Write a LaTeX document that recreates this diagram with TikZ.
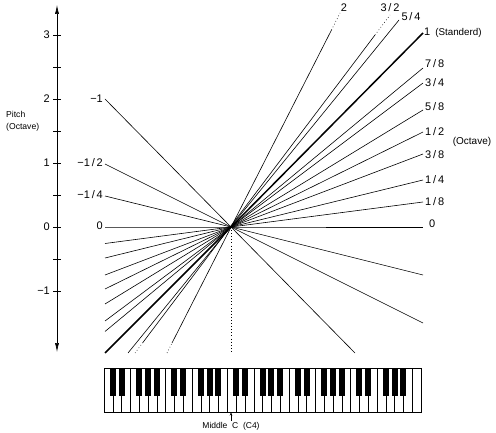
\documentclass[tikz,border=0pt]{standalone}
\usepackage{fontspec}
\setmainfont{Liberation Sans}
\usetikzlibrary{arrows.meta}
\tikzset{
  fan/.style={line width=0.6pt},
  stdline/.style={line width=1.5pt},
  dotline/.style={line width=0.6pt, dash pattern=on 0.7pt off 2.4pt},
  num/.style={font=\fontsize{11}{12}\selectfont, inner sep=1pt},
  word/.style={font=\fontsize{9.5}{12}\selectfont, inner sep=1pt},
}
\begin{document}
\begin{tikzpicture}[x=1pt,y=-1pt]
\useasboundingbox (0,0) rectangle (496,433);
% pitch axis
\coordinate (ytop) at (57,5);
\coordinate (ybot) at (57,352);
\draw[line width=0.6pt, {Latex[length=9pt,width=4pt]}-{Latex[length=9pt,width=4pt]}] (ybot) -- (ytop);
\foreach \v in {3,2.5,...,-1} \draw[line width=0.6pt] (53,{227-64*\v}) -- (61,{227-64*\v});
\node[num, anchor=east] (y3) at (51,35) {3};
\node[num, anchor=east] (y2) at (51,99) {2};
\node[num, anchor=east] (y1) at (51,163) {1};
\node[num, anchor=east] (y0) at (51,227) {0};
\node[num, anchor=east] (ym1) at (51,291) {−1};
\node[word, font=\fontsize{8.6}{12}\selectfont, anchor=west, align=left] (pitch) at (5,121) {Pitch\\(Octave)};
% fan of lines through middle C
\coordinate (O) at (231,227);
\coordinate (l18) at (105,243.5); \coordinate (r18) at (423,202);
\coordinate (l14) at (105,258);   \coordinate (r14) at (423,180);
\coordinate (l38) at (105,275);   \coordinate (r38) at (423,154);
\coordinate (l12) at (105,289);   \coordinate (r12) at (423,132);
\coordinate (l58) at (105,304);   \coordinate (r58) at (423,110);
\coordinate (l34) at (105,321);   \coordinate (r34) at (423,83);
\coordinate (l78) at (105,331.5); \coordinate (r78) at (423,68);
\coordinate (l1) at (105,353);    \coordinate (r1) at (423,33);
\coordinate (l0) at (105,227);    \coordinate (r0) at (423,227);
\coordinate (lm1) at (105,99);    \coordinate (rm1) at (355,353);
\coordinate (lm12) at (105,164);  \coordinate (rm12) at (423,323);
\coordinate (lm14) at (105,196);  \coordinate (rm14) at (423,275);
\foreach \n in {18,14,38,12,58,34,78,0,m1,m12,m14}
  \draw[fan] (l\n) -- (O) -- (r\n);
\draw[stdline] (l1) -- (O) -- (r1);
% steeper slopes
\coordinate (b54) at (128,353); \coordinate (t54) at (399,20);
\draw[fan] (b54) -- (t54);
\coordinate (b32) at (135,353); \coordinate (b32s) at (142.5,343);
\coordinate (t32s) at (375,35); \coordinate (t32) at (390,15);
\draw[dotline] (b32) -- (b32s);
\draw[fan] (b32s) -- (t32s);
\draw[dotline] (t32s) -- (t32);
\coordinate (b2) at (167,353); \coordinate (b2s) at (172,343);
\coordinate (t2s) at (331.5,30); \coordinate (t2) at (340,13);
\draw[dotline] (b2) -- (b2s);
\draw[fan] (b2s) -- (t2s);
\draw[dotline] (t2s) -- (t2);
\coordinate (Obot) at (231,353);
\draw[dotline] (O) -- (Obot);
% slope labels
\node[num] (k2) at (344,8) {2};
\node[num] (k32) at (390,8) {3\,/\,2};
\node[num] (k54) at (411,17) {5\,/\,4};
\node[num, anchor=west] (k1) at (423,33) {1\hspace{5pt}{\fontsize{9.8}{12}\selectfont(Standerd)}};
\node[num, anchor=west] (k78) at (424,64) {7\,/\,8};
\node[num, anchor=west] (k34) at (424,83) {3\,/\,4};
\node[num, anchor=west] (k58) at (424,107) {5\,/\,8};
\node[num, anchor=west] (k12) at (424,132) {1\,/\,2};
\node[num, anchor=west] (k38) at (424,155) {3\,/\,8};
\node[num, anchor=west] (k14) at (424,180) {1\,/\,4};
\node[num, anchor=west] (k18) at (424,202) {1\,/\,8};
\node[num, anchor=west] (k0) at (428,224) {0};
\node[word, font=\fontsize{10}{12}\selectfont] (oct) at (472,142) {(Octave)};
\node[num, anchor=east] (km1) at (104,99) {−1};
\node[num, anchor=east] (km12) at (104,163) {−1\,/\,2};
\node[num, anchor=east] (km14) at (104,195) {−1\,/\,4};
\node[num, anchor=east] (kl0) at (104,226) {0};
% keyboard, C2 to C7
\draw[line width=0.6pt] (104,368) rectangle (421,412);
\foreach \i in {1,...,35} \draw[line width=0.4pt] ({104+\i*8.806},368) -- ++(0,44);
\foreach \o in {0,...,4}
  \foreach \b in {1,2,4,5,6}
    \fill ({104+(7*\o+\b)*8.806-3},368) rectangle ++(6,28);
\coordinate (c4) at (231,412.5);
\node[word, font=\fontsize{8.5}{10}\selectfont] (mc) at (231,426) {Middle~ C~ (C4)};
\draw[line width=0.4pt, -{Stealth[length=3pt,width=2.5pt]}] (mc.north) -- (c4);
\end{tikzpicture}
\end{document}
